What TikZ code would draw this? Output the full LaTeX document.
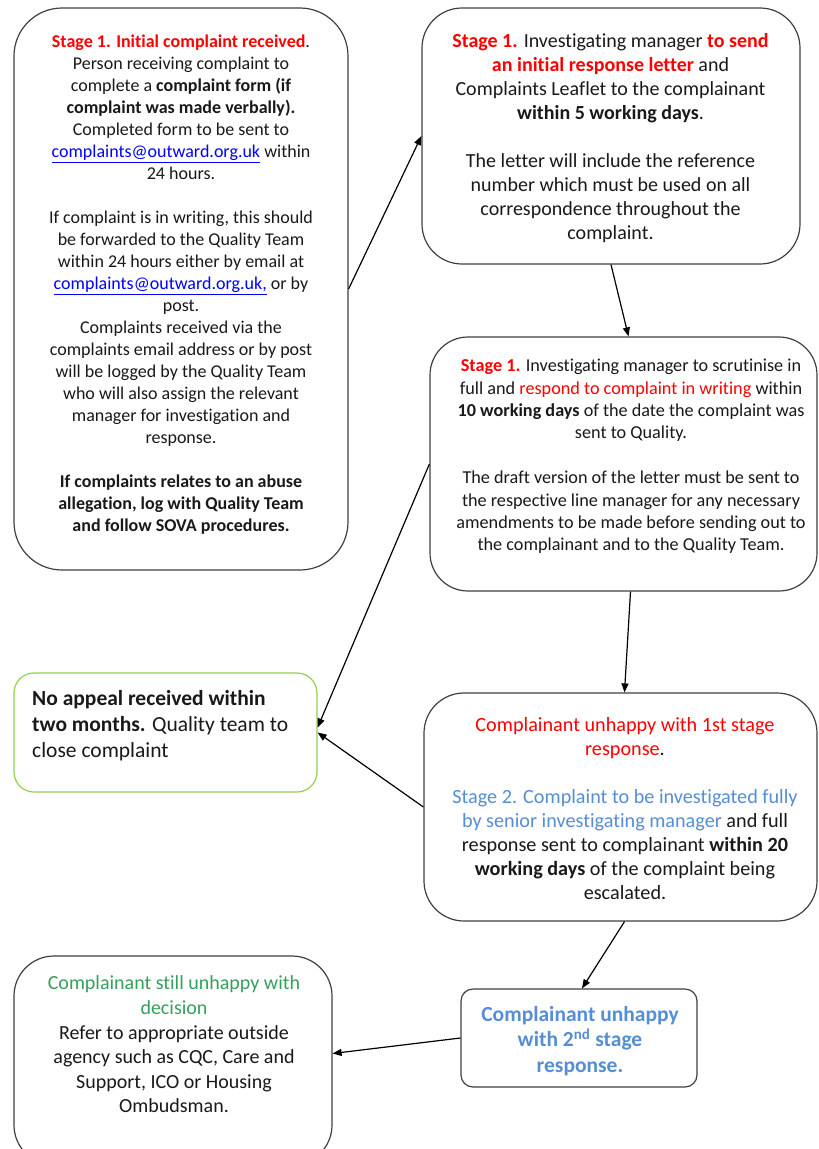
\documentclass[tikz,border=0pt]{standalone}
\usepackage{fontspec}
\setmainfont{Carlito}[Ligatures=NoCommon]
\usetikzlibrary{arrows.meta}
\definecolor{stred}{RGB}{255,0,0}
\definecolor{stblue}{RGB}{85,142,213}
\definecolor{stgreen}{RGB}{52,160,90}
\definecolor{lnkblue}{RGB}{0,0,255}
\definecolor{boxline}{RGB}{64,64,64}
\definecolor{greenline}{RGB}{146,208,80}
\definecolor{txtcol}{RGB}{25,25,25}
\newcommand{\lnk}[1]{\textcolor{lnkblue}{\underline{#1}}}
\begin{document}
\begin{tikzpicture}[x=1pt,y=-1pt,
  box/.style={draw=boxline,line width=1.2pt,fill=white,inner sep=0pt},
  txt/.style={align=center,inner sep=0pt,text=txtcol},
  conn/.style={draw=black,line width=1.2pt,-{Triangle[length=9pt,width=7pt]}}]
\useasboundingbox (0,0) rectangle (819,1149);
% boxes
\node[box,rounded corners=48pt,minimum width=334pt,minimum height=562pt] (A) at (181,289) {};
\node[box,rounded corners=40pt,minimum width=378pt,minimum height=256pt] (B) at (611,136) {};
\node[box,rounded corners=38pt,minimum width=387pt,minimum height=254pt] (C) at (623.5,464) {};
\node[box,draw=greenline,rounded corners=20pt,minimum width=303pt,minimum height=119pt] (D) at (165.5,732.5) {};
\node[box,rounded corners=40pt,minimum width=393pt,minimum height=228pt] (E) at (620.5,807) {};
\node[box,rounded corners=12pt,minimum width=236pt,minimum height=98pt] (F) at (579,1038) {};
\node[box,rounded corners=40pt,minimum width=318pt,minimum height=209pt] (G) at (173,1060.5) {};
% texts
\node[txt,font=\fontsize{18}{22}\selectfont] (At) at (181,285) {%
\textcolor{stred}{\textbf{Stage 1. Initial complaint received}}.\\
Person receiving complaint to\\
complete a \textbf{complaint form (if}\\
\textbf{complaint was made verbally).}\\
Completed form to be sent to\\
\lnk{complaints@outward.org.uk} within\\
24 hours.\\[22pt]
If complaint is in writing, this should\\
be forwarded to the Quality Team\\
within 24 hours either by email at\\
\lnk{complaints@outward.org.uk,} or by\\
post.\\
Complaints received via the\\
complaints email address or by post\\
will be logged by the Quality Team\\
who will also assign the relevant\\
manager for investigation and\\
response.\\[22pt]
\textbf{If complaints relates to an abuse}\\
\textbf{allegation, log with Quality Team}\\
\textbf{and follow SOVA procedures.}};
\node[txt,font=\fontsize{20}{24}\selectfont] (Bt) at (610.5,138.5) {%
\textcolor{stred}{\textbf{Stage 1.}} Investigating manager \textcolor{stred}{\textbf{to send}}\\
\textcolor{stred}{\textbf{an initial response letter}} and\\
Complaints Leaflet to the complainant\\
\textbf{within 5 working days}.\\[24pt]
The letter will include the reference\\
number which must be used on all\\
correspondence throughout the\\
complaint.};
\node[txt,font=\fontsize{18.2}{22.4}\selectfont] (Ct) at (631,456.5) {%
\textcolor{stred}{\textbf{Stage 1.}} Investigating manager to scrutinise in\\
full and \textcolor{stred}{respond to complaint in writing} within\\
\textbf{10 working days} of the date the complaint was\\
sent to Quality.\\[22.4pt]
The draft version of the letter must be sent to\\
the respective line manager for any necessary\\
amendments to be made before sending out to\\
the complainant and to the Quality Team.};
\node[txt,align=left,anchor=west,font=\fontsize{21.5}{26}\selectfont] (Dt) at (32,726) {%
\textbf{No appeal received within}\\
\textbf{two months.} Quality team to\\
close complaint};
\node[txt,font=\fontsize{20.2}{24}\selectfont] (Et) at (625,809) {%
\textcolor{stred}{Complainant unhappy with 1st stage}\\
\textcolor{stred}{response}.\\[24pt]
\textcolor{stblue}{Stage 2. Complaint to be investigated fully}\\
\textcolor{stblue}{by senior investigating manager} and full\\
response sent to complainant \textbf{within 20}\\
\textbf{working days} of the complaint being\\
escalated.};
\node[txt,font=\fontsize{21.5}{25.5}\selectfont,text=stblue] (Ft) at (580,1041) {%
\textbf{Complainant unhappy}\\
\textbf{with 2\textsuperscript{nd} stage}\\
\textbf{response.}};
\node[txt,font=\fontsize{20}{24.6}\selectfont] (Gt) at (174,1044.5) {%
\textcolor{stgreen}{Complainant still unhappy with}\\
\textcolor{stgreen}{decision}\\
Refer to appropriate outside\\
agency such as CQC, Care and\\
Support, ICO or Housing\\
Ombudsman.};
% connectors
\draw[conn] (A.east) -- (B.west);
\draw[conn] (B.south) -- ([xshift=5pt]C.north);
\draw[conn] (C.west) -- ([yshift=5pt]D.east);
\draw[conn] ([xshift=7pt]C.south) -- ([xshift=4pt]E.north);
\draw[conn] (E.west) -- (D.east);
\draw[conn] ([xshift=4pt]E.south) -- ([xshift=3pt]F.north);
\draw[conn] (F.west) -- ([yshift=7pt]G.east);
\end{tikzpicture}
\end{document}
